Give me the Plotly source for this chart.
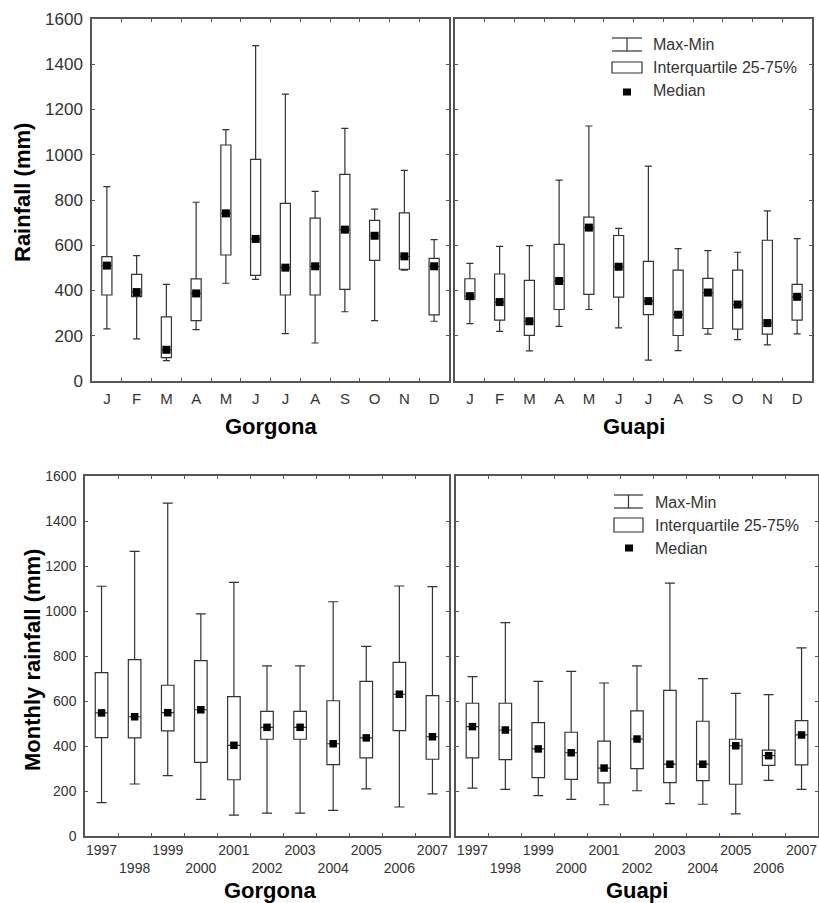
import plotly.graph_objects as go

W, H = 819, 903

# ---------------- data ----------------
month_cats = ["Jan", "Feb", "Mar", "Apr", "May", "Jun", "Jul", "Aug", "Sep", "Oct", "Nov", "Dec"]
month_labels = ["J", "F", "M", "A", "M", "J", "J", "A", "S", "O", "N", "D"]
years = ["1997", "1998", "1999", "2000", "2001", "2002", "2003", "2004", "2005", "2006", "2007"]

# Gorgona monthly
gor_m_max = [859, 554, 427, 790, 1111, 1482, 1268, 838, 1117, 760, 931, 625]
gor_m_q3 = [550, 471, 283, 451, 1043, 980, 785, 720, 913, 710, 743, 542]
gor_m_med = [510, 393, 138, 387, 741, 628, 501, 507, 669, 642, 551, 507]
gor_m_q1 = [380, 373, 103, 267, 557, 467, 380, 380, 405, 533, 494, 292]
gor_m_min = [230, 186, 90, 227, 432, 449, 209, 168, 306, 267, 490, 264]

# Guapi monthly
gua_m_max = [520, 595, 598, 888, 1127, 675, 950, 585, 576, 569, 752, 629]
gua_m_q3 = [452, 473, 445, 604, 724, 643, 529, 490, 454, 490, 622, 427]
gua_m_med = [375, 349, 264, 442, 678, 505, 353, 293, 391, 338, 256, 372]
gua_m_q1 = [362, 269, 202, 316, 383, 371, 293, 201, 232, 229, 207, 269]
gua_m_min = [254, 219, 133, 241, 316, 235, 92, 134, 207, 183, 160, 208]

# Gorgona yearly
gor_y_max = [1110, 1265, 1479, 987, 1127, 756, 756, 1041, 843, 1111, 1108]
gor_y_q3 = [726, 784, 670, 779, 619, 554, 554, 601, 687, 772, 624]
gor_y_med = [547, 530, 548, 561, 403, 483, 483, 410, 436, 630, 441]
gor_y_q1 = [437, 436, 467, 327, 250, 430, 430, 317, 347, 468, 341]
gor_y_min = [148, 231, 268, 163, 93, 102, 102, 114, 209, 129, 187]

# Guapi yearly
gua_y_max = [708, 948, 687, 732, 680, 756, 1124, 699, 634, 628, 836]
gua_y_q3 = [590, 590, 504, 461, 422, 556, 647, 510, 430, 382, 513]
gua_y_med = [486, 471, 387, 370, 302, 431, 319, 319, 401, 357, 449]
gua_y_q1 = [347, 339, 259, 252, 236, 299, 237, 246, 230, 314, 316]
gua_y_min = [213, 207, 179, 163, 139, 201, 144, 141, 98, 247, 207]

y_ticks = [0, 200, 400, 600, 800, 1000, 1200, 1400, 1600]
year_ticktext = [y if i % 2 == 0 else "<br>" + y for i, y in enumerate(years)]

# ---------------- layout helpers ----------------
def fx(px):
    return px / W

def fy(py):
    return 1 - py / H

panels = {
    "tl": dict(x0=92, x1=449, y0=19, y1=381),
    "tr": dict(x0=455, x1=812, y0=19, y1=381),
    "bl": dict(x0=85, x1=449, y0=476, y1=836),
    "br": dict(x0=456, x1=818, y0=476, y1=836),
}

FONT = "Liberation Sans, Arial, sans-serif"
LINE = "#333333"
FRAME = "#555555"

fig = go.Figure()

def add_panel(idx, cats, qmax, q3, med, q1, qmin, bw, ww, msize):
    xa = "x" if idx == 1 else "x%d" % idx
    ya = "y" if idx == 1 else "y%d" % idx
    fig.add_trace(go.Box(
        x=cats, q1=q1, median=med, q3=q3, lowerfence=qmin, upperfence=qmax,
        boxpoints=False, width=bw, whiskerwidth=ww,
        fillcolor="white", line=dict(color=LINE, width=1.2),
        xaxis=xa, yaxis=ya, showlegend=False, hoverinfo="skip",
    ))
    fig.add_trace(go.Scatter(
        x=cats, y=med, mode="markers",
        marker=dict(symbol="square", size=msize, color="black", line=dict(width=0)),
        xaxis=xa, yaxis=ya, showlegend=False, hoverinfo="skip",
    ))

add_panel(1, month_cats, gor_m_max, gor_m_q3, gor_m_med, gor_m_q1, gor_m_min, 0.34, 0.7, 8)
add_panel(2, month_cats, gua_m_max, gua_m_q3, gua_m_med, gua_m_q1, gua_m_min, 0.34, 0.7, 8)
add_panel(3, years, gor_y_max, gor_y_q3, gor_y_med, gor_y_q1, gor_y_min, 0.38, 0.8, 7.5)
add_panel(4, years, gua_y_max, gua_y_q3, gua_y_med, gua_y_q1, gua_y_min, 0.38, 0.8, 7.5)

def xaxis(p, cats, ticktext, fsize, standoff):
    return dict(
        domain=[fx(p["x0"]), fx(p["x1"])], type="category",
        categoryorder="array", categoryarray=cats,
        range=[-0.5, len(cats) - 0.5],
        tickmode="array", tickvals=cats, ticktext=ticktext, tickangle=0,
        tickson="boundaries", ticks="inside", ticklen=3, tickcolor=FRAME,
        showline=True, linecolor=FRAME, linewidth=1.5, mirror="ticks",
        showgrid=False, zeroline=False, automargin=False,
        tickfont=dict(family=FONT, size=fsize, color="#333333"),
        ticklabelstandoff=standoff,
    )

def yaxis(p, anchor, labels, fsize):
    return dict(
        domain=[fy(p["y1"]), fy(p["y0"])], anchor=anchor,
        range=[0, 1600], tickmode="array", tickvals=y_ticks,
        showticklabels=labels, ticks="inside", ticklen=3, tickcolor=FRAME,
        showline=True, linecolor=FRAME, linewidth=1.5, mirror="ticks",
        showgrid=False, zeroline=False, automargin=False,
        tickfont=dict(family=FONT, size=fsize, color="#333333"),
        ticklabelstandoff=4,
    )

fig.update_layout(
    width=W, height=H,
    margin=dict(l=0, r=0, t=0, b=0, autoexpand=False),
    paper_bgcolor="white", plot_bgcolor="white",
    showlegend=False,
    xaxis=dict(xaxis(panels["tl"], month_cats, month_labels, 15, 3), anchor="y"),
    yaxis=yaxis(panels["tl"], "x", True, 17),
    xaxis2=dict(xaxis(panels["tr"], month_cats, month_labels, 15, 3), anchor="y2"),
    yaxis2=yaxis(panels["tr"], "x2", False, 17),
    xaxis3=dict(xaxis(panels["bl"], years, year_ticktext, 14, 0), anchor="y3"),
    yaxis3=yaxis(panels["bl"], "x3", True, 14),
    xaxis4=dict(xaxis(panels["br"], years, year_ticktext, 14, 0), anchor="y4"),
    yaxis4=yaxis(panels["br"], "x4", False, 14),
)

annotations = []
shapes = []

def title(text, px, py, angle=0):
    annotations.append(dict(
        text="<b>%s</b>" % text, x=fx(px), y=fy(py), xref="paper", yref="paper",
        showarrow=False, textangle=angle, xanchor="center", yanchor="middle",
        font=dict(family=FONT, size=22, color="black"),
    ))

title("Gorgona", (92 + 449) / 2, 426)
title("Guapi", (455 + 812) / 2, 426)
title("Gorgona", (85 + 449) / 2 + 3, 890)
title("Guapi", (456 + 818) / 2, 890)
title("Rainfall (mm)", 22, 193, -90)
title("Monthly rainfall (mm)", 32, 660, -90)

def legend(ix0, ix1, ymm_top, ymm_bot, yr_top, yr_bot, medc, tx, ty):
    # Max-Min icon
    xm = (ix0 + ix1) / 2
    for yy in (ymm_top, ymm_bot):
        shapes.append(dict(type="line", xref="paper", yref="paper",
                           x0=fx(ix0), x1=fx(ix1), y0=fy(yy), y1=fy(yy),
                           line=dict(color=LINE, width=1.2)))
    shapes.append(dict(type="line", xref="paper", yref="paper",
                       x0=fx(xm), x1=fx(xm), y0=fy(ymm_top), y1=fy(ymm_bot),
                       line=dict(color=LINE, width=1.2)))
    # Interquartile icon
    shapes.append(dict(type="rect", xref="paper", yref="paper",
                       x0=fx(ix0), x1=fx(ix1), y0=fy(yr_bot), y1=fy(yr_top),
                       line=dict(color=LINE, width=1.2), fillcolor="white"))
    # Median icon
    cx, cy = medc
    shapes.append(dict(type="rect", xref="paper", yref="paper",
                       x0=fx(cx - 4), x1=fx(cx + 4), y0=fy(cy + 3.5), y1=fy(cy - 3.5),
                       line=dict(width=0), fillcolor="black"))
    for txt, yy in zip(["Max-Min", "Interquartile 25-75%", "Median"], ty):
        annotations.append(dict(
            text=txt, x=fx(tx), y=fy(yy), xref="paper", yref="paper",
            showarrow=False, xanchor="left", yanchor="middle",
            font=dict(family=FONT, size=16, color="#333333"),
        ))

legend(612, 642, 38, 51, 62, 73, (627, 92), 651, [45, 68, 91])
legend(614, 643, 495, 508, 518, 532, (629, 548), 653, [502, 525, 548])

fig.update_layout(annotations=annotations, shapes=shapes)

fig.write_html(
    "out.html",
    config={"displayModeBar": False},
    post_script="document.body.style.margin='0px';document.body.style.padding='0px';"
                "document.body.style.overflow='hidden';",
)
